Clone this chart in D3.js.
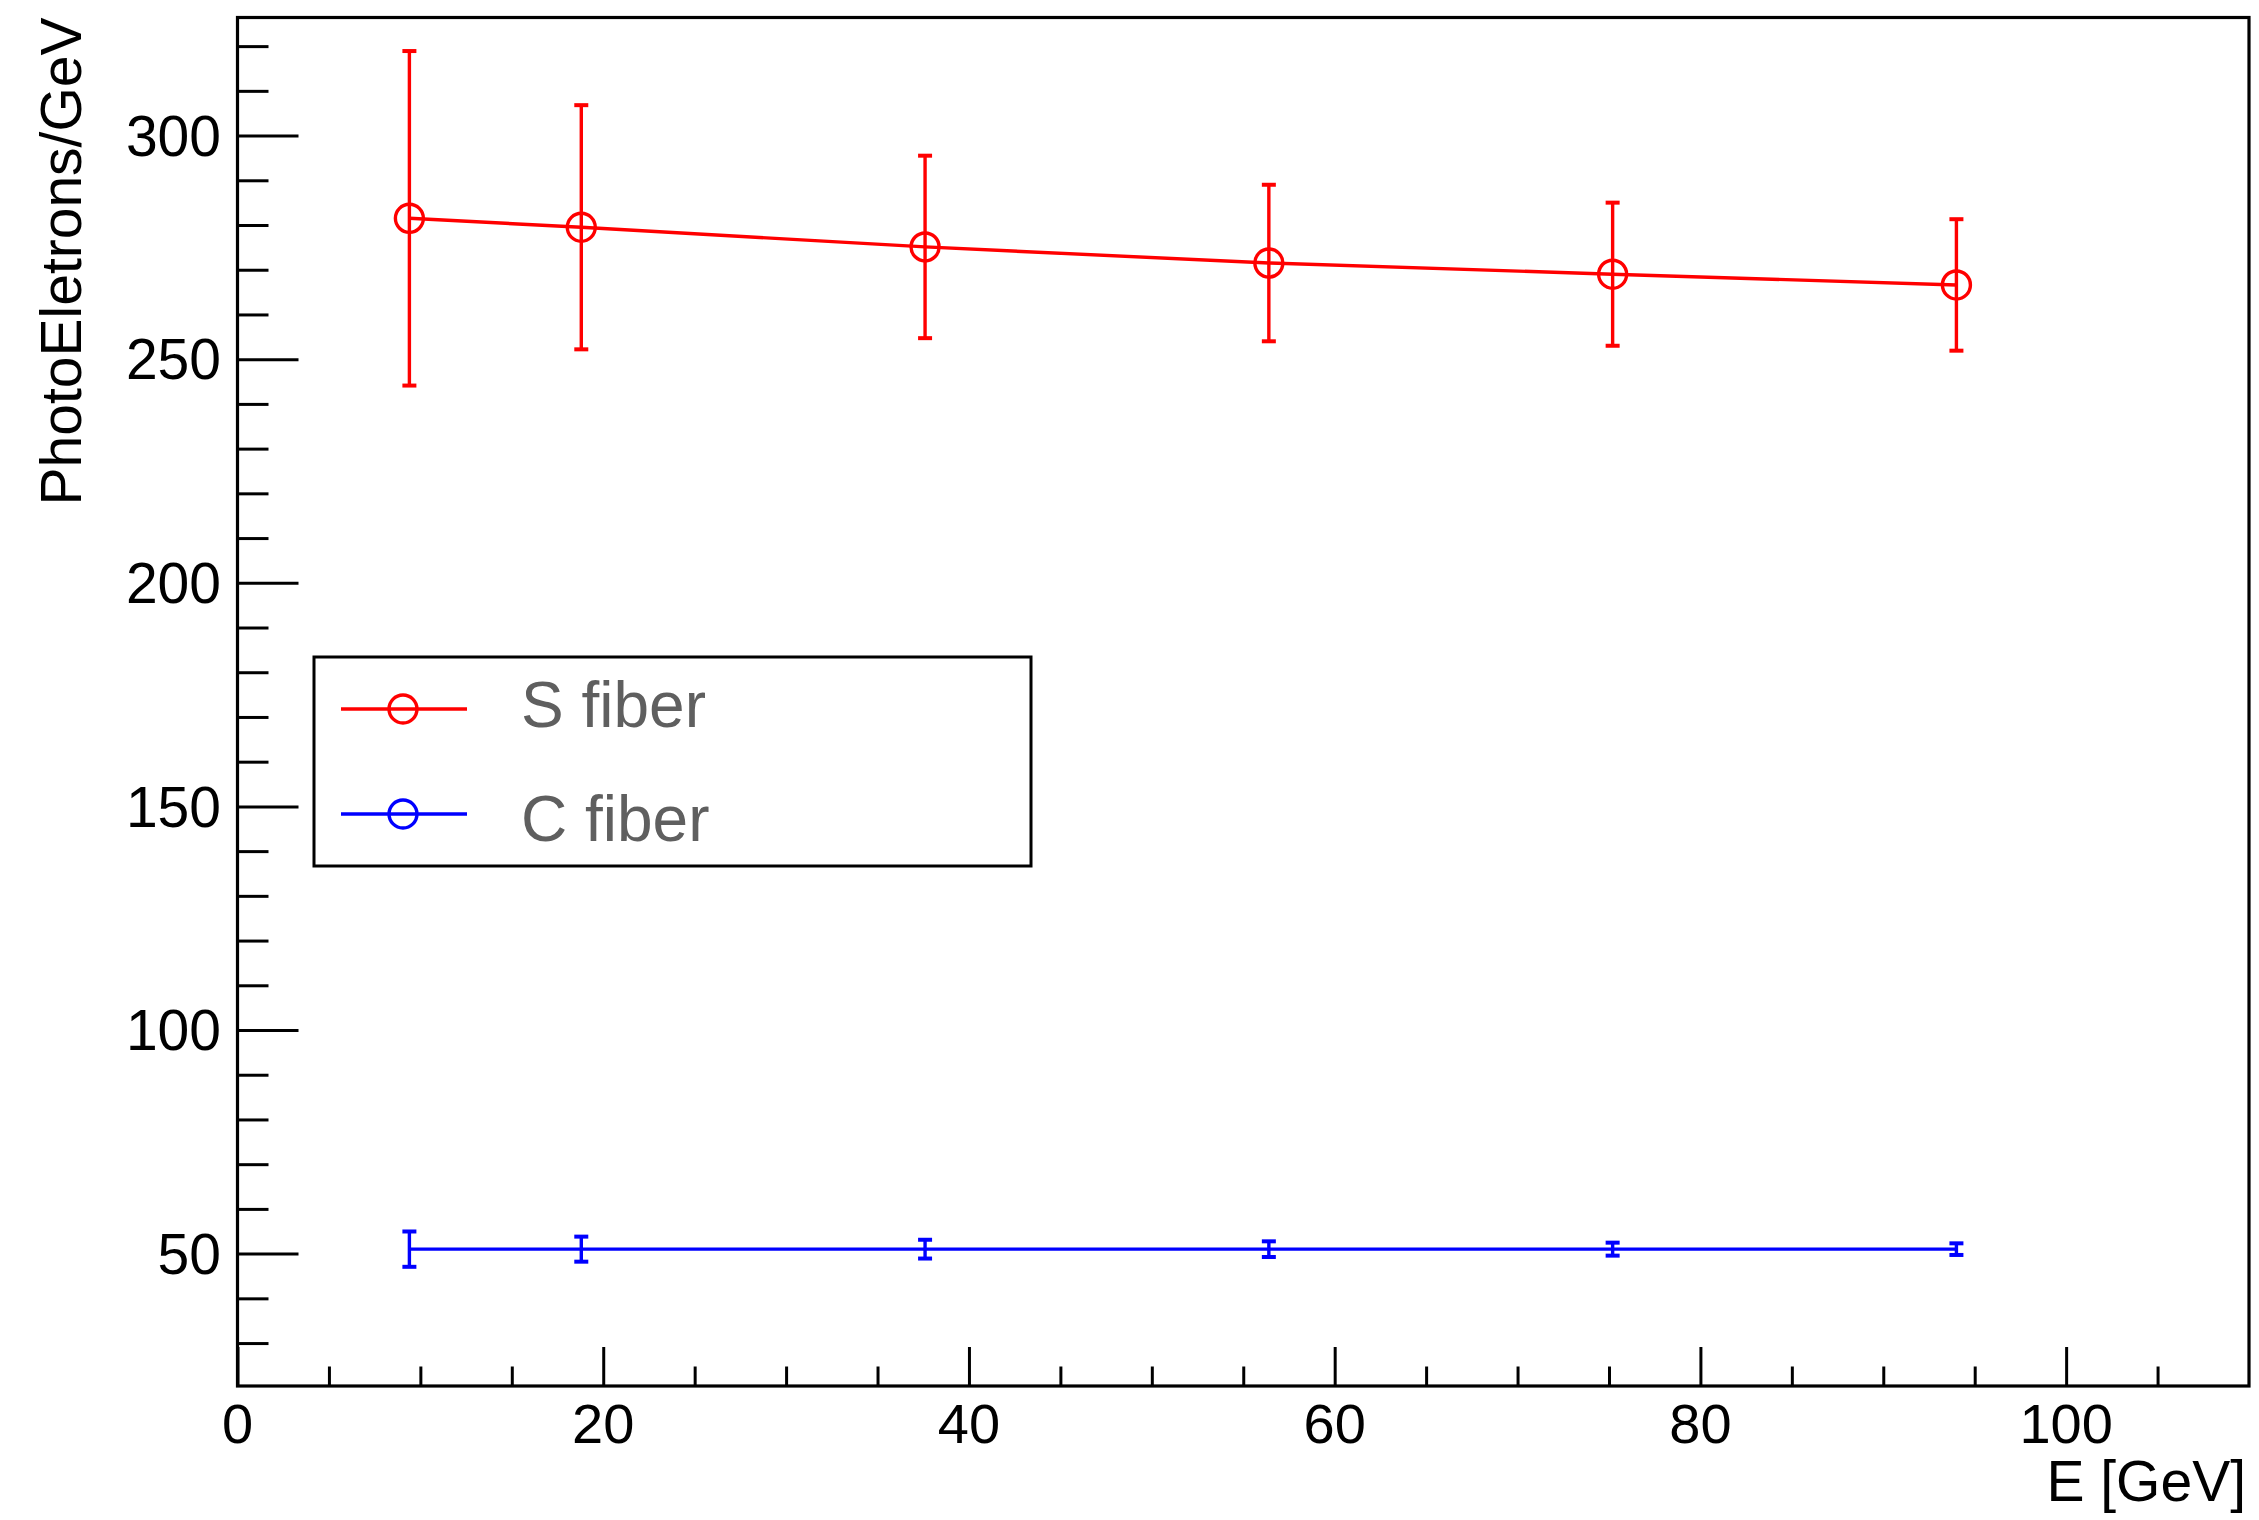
<!DOCTYPE html>
<html>
<head>
<meta charset="utf-8">
<script src="https://cdn.jsdelivr.net/npm/d3@7"></script>
<style>
  html, body { margin: 0; padding: 0; background: #fff; }
  svg { display: block; }
  text { font-family: "Liberation Sans", Arial, Helvetica, sans-serif; }
</style>
</head>
<body>
<script>
// Beam energies (GeV) and photoelectron yields per GeV for the two fiber types
const energies = [9.4, 18.8, 37.6, 56.4, 75.2, 94.0];
const sFiberValues = [281.5, 279.5, 275.1, 271.5, 269.0, 266.6];
const sFiberErrors = [37.4, 27.3, 20.4, 17.5, 16.0, 14.7];
const cFiberValues = [51.0, 51.0, 51.0, 51.0, 51.0, 51.0];
const cFiberErrors = [3.95, 2.8, 2.1, 1.75, 1.45, 1.3];

const xMajorTicks = [0, 20, 40, 60, 80, 100];
const xMinorTicks = [5, 10, 15, 25, 30, 35, 45, 50, 55, 65, 70, 75, 85, 90, 95, 105];
const yMajorTicks = [50, 100, 150, 200, 250, 300];
const yMinorTicks = [30, 40, 60, 70, 80, 90, 110, 120, 130, 140, 160, 170, 180, 190,
                     210, 220, 230, 240, 260, 270, 280, 290, 310, 320];

const seriesNames = ["S fiber", "C fiber"];
const seriesColors = ["#ff0000", "#0000ff"];

const W = 2259, H = 1520;
const frame = { left: 237.5, right: 2249, top: 17.5, bottom: 1386 };

const svg = d3.select("body").append("svg")
  .attr("width", W).attr("height", H);

svg.append("rect").attr("width", W).attr("height", H).attr("fill", "#fff");

const x = d3.scaleLinear().domain([0, 110]).range([frame.left, frame.right]);
const y = d3.scaleLinear().domain([20.4, 326.4]).range([frame.bottom, frame.top]);

// Axes: ticks point into the frame
const xAxisMajor = d3.axisTop(x).tickValues(xMajorTicks).tickSize(39).tickFormat("");
const xAxisMinor = d3.axisTop(x).tickValues(xMinorTicks).tickSize(19.5).tickFormat("");
const yAxisMajor = d3.axisRight(y).tickValues(yMajorTicks).tickSize(61).tickFormat("");
const yAxisMinor = d3.axisRight(y).tickValues(yMinorTicks).tickSize(31).tickFormat("");

function styleAxis(g) {
  g.select(".domain").remove();
  g.selectAll(".tick line").attr("stroke", "#000").attr("stroke-width", 3);
}

svg.append("g").attr("transform", `translate(0,${frame.bottom})`).call(xAxisMajor).call(styleAxis);
svg.append("g").attr("transform", `translate(0,${frame.bottom})`).call(xAxisMinor).call(styleAxis);
svg.append("g").attr("transform", `translate(${frame.left},0)`).call(yAxisMajor).call(styleAxis);
svg.append("g").attr("transform", `translate(${frame.left},0)`).call(yAxisMinor).call(styleAxis);

// Tick labels
svg.append("g").selectAll("text").data(xMajorTicks).join("text")
  .attr("x", d => x(d)).attr("y", 1443)
  .attr("text-anchor", "middle").attr("font-size", 56).attr("fill", "#000")
  .text(d => d);

svg.append("g").selectAll("text").data(yMajorTicks).join("text")
  .attr("x", 221).attr("y", d => y(d)).attr("dy", "0.355em")
  .attr("text-anchor", "end").attr("font-size", 57).attr("fill", "#000")
  .text(d => d);

// Axis titles
svg.append("text")
  .attr("x", 2246).attr("y", 1501)
  .attr("text-anchor", "end").attr("font-size", 57).attr("fill", "#000")
  .text("E [GeV]");

svg.append("text")
  .attr("transform", `translate(81,${frame.top}) rotate(-90)`)
  .attr("text-anchor", "end").attr("font-size", 57).attr("fill", "#000")
  .text("PhotoEletrons/GeV");

// Data series
const series = [
  { name: seriesNames[0], color: seriesColors[0], values: sFiberValues, errors: sFiberErrors, markers: true },
  { name: seriesNames[1], color: seriesColors[1], values: cFiberValues, errors: cFiberErrors, markers: false }
];

const line = d3.line().x(d => x(d.e)).y(d => y(d.v));
const capHalf = 7;

series.forEach(s => {
  const pts = energies.map((e, i) => ({ e, v: s.values[i], err: s.errors[i] }));
  const g = svg.append("g");

  g.append("path").datum(pts)
    .attr("d", line).attr("fill", "none")
    .attr("stroke", s.color).attr("stroke-width", 3.4);

  const bars = g.selectAll("g.err").data(pts).join("g").attr("class", "err");
  bars.append("line")
    .attr("x1", d => x(d.e)).attr("x2", d => x(d.e))
    .attr("y1", d => y(d.v + d.err)).attr("y2", d => y(d.v - d.err))
    .attr("stroke", s.color).attr("stroke-width", 3.4);
  bars.append("line")
    .attr("x1", d => x(d.e) - capHalf).attr("x2", d => x(d.e) + capHalf)
    .attr("y1", d => y(d.v + d.err)).attr("y2", d => y(d.v + d.err))
    .attr("stroke", s.color).attr("stroke-width", 4);
  bars.append("line")
    .attr("x1", d => x(d.e) - capHalf).attr("x2", d => x(d.e) + capHalf)
    .attr("y1", d => y(d.v - d.err)).attr("y2", d => y(d.v - d.err))
    .attr("stroke", s.color).attr("stroke-width", 4);

  if (s.markers) {
    g.selectAll("circle").data(pts).join("circle")
      .attr("cx", d => x(d.e)).attr("cy", d => y(d.v)).attr("r", 14)
      .attr("fill", "none").attr("stroke", s.color).attr("stroke-width", 3.4);
  }
});

// Frame
svg.append("rect")
  .attr("x", frame.left).attr("y", frame.top)
  .attr("width", frame.right - frame.left).attr("height", frame.bottom - frame.top)
  .attr("fill", "none").attr("stroke", "#000").attr("stroke-width", 3.2);

// Legend
const legend = svg.append("g");
legend.append("rect")
  .attr("x", 314).attr("y", 657).attr("width", 717).attr("height", 209)
  .attr("fill", "#fff").attr("stroke", "#000").attr("stroke-width", 3);

const legendRows = [709, 814];
series.forEach((s, i) => {
  const ly = legendRows[i];
  legend.append("line")
    .attr("x1", 341).attr("x2", 467).attr("y1", ly).attr("y2", ly)
    .attr("stroke", s.color).attr("stroke-width", 3.4);
  legend.append("circle")
    .attr("cx", 403).attr("cy", ly).attr("r", 14)
    .attr("fill", "none").attr("stroke", s.color).attr("stroke-width", 3.4);
  legend.append("text")
    .attr("x", 521).attr("y", ly + 18 + (i === 1 ? 9 : 0))
    .attr("font-size", 64).attr("fill", "#5f5f5f")
    .text(s.name);
});
</script>
</body>
</html>
